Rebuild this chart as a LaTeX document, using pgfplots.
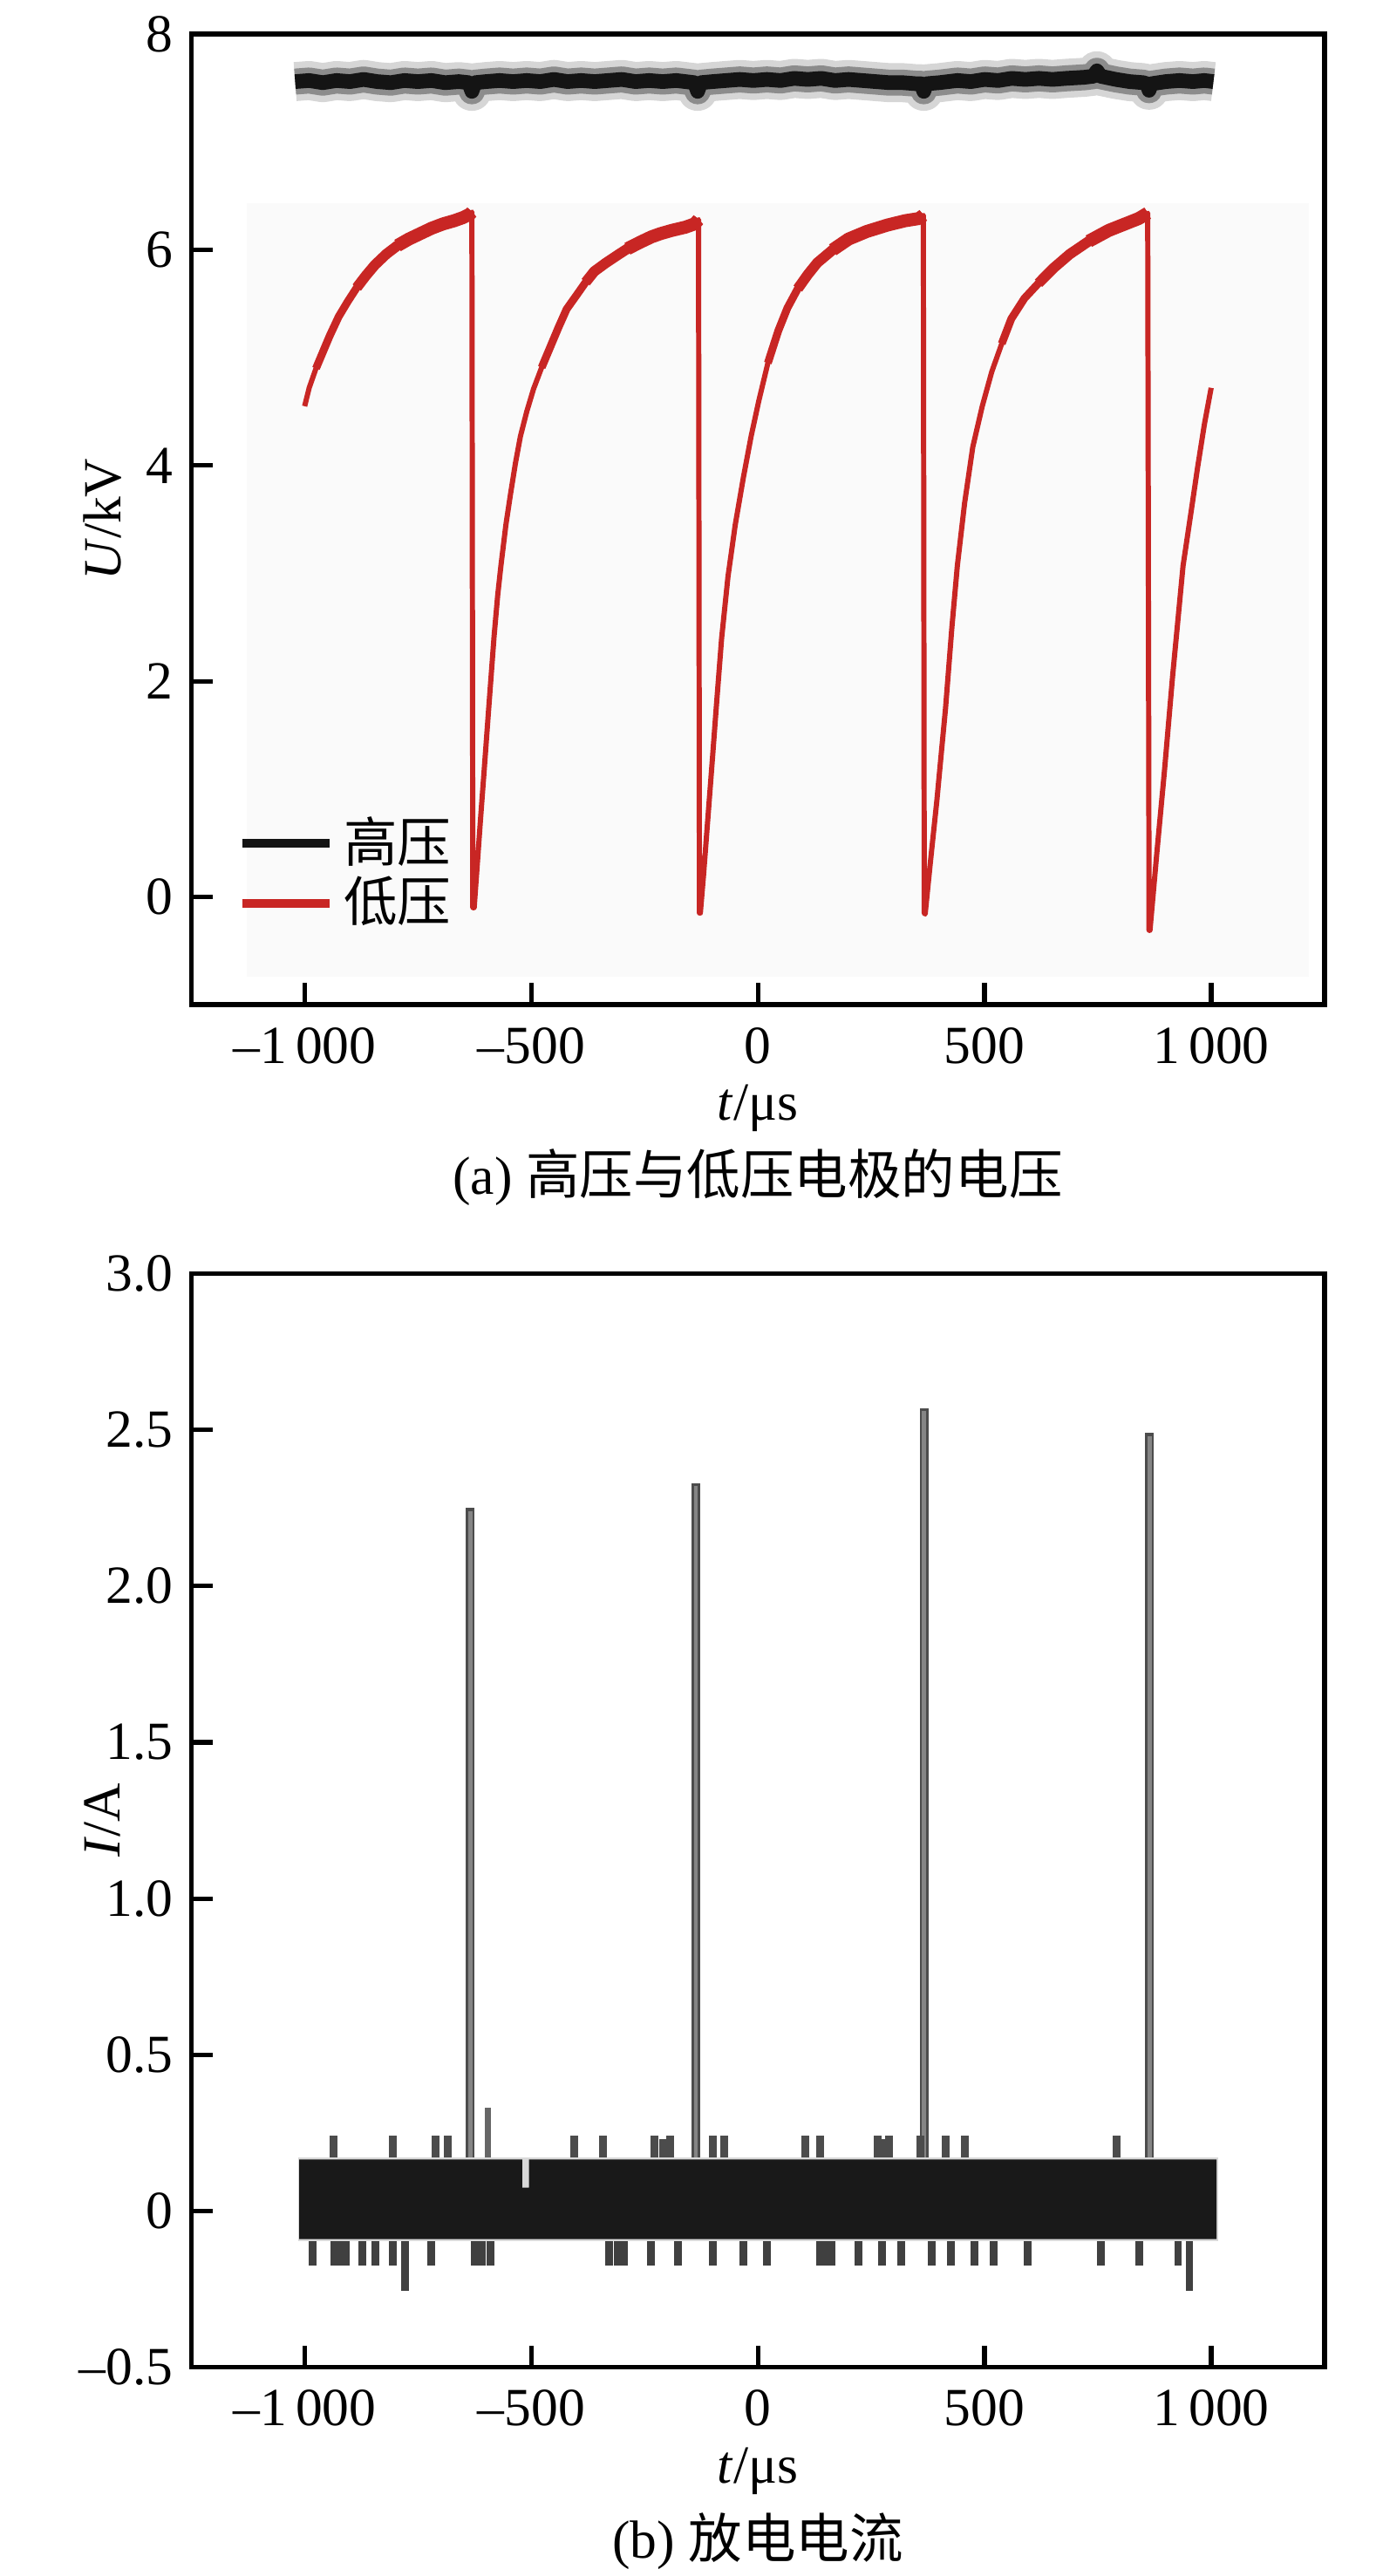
\documentclass[border=0pt]{standalone}
\usepackage{fontspec}
\setmainfont{Liberation Serif}
\newfontfamily\cjk{Noto Sans CJK SC}
\usepackage{pgfplots}
\usepackage{pgfplotstable}
\pgfplotsset{compat=1.18}
\definecolor{lvred}{RGB}{200,38,36}

\pgfplotstableread{
t U
-1021 7.56
-990 7.57
-960 7.55
-930 7.57
-900 7.56
-870 7.58
-840 7.56
-810 7.55
-780 7.57
-750 7.56
-720 7.57
-690 7.55
-660 7.56
-638 7.55
-631 7.47
-624 7.55
-600 7.56
-570 7.57
-540 7.56
-510 7.57
-480 7.56
-450 7.58
-420 7.56
-390 7.57
-360 7.56
-330 7.57
-300 7.58
-270 7.56
-240 7.57
-210 7.56
-180 7.57
-140 7.55
-133 7.47
-126 7.55
-100 7.56
-70 7.57
-40 7.58
-10 7.57
20 7.58
50 7.57
80 7.59
110 7.58
140 7.59
170 7.57
200 7.58
230 7.57
260 7.56
290 7.55
320 7.55
350 7.54
360 7.54
366 7.47
372 7.54
400 7.55
440 7.57
470 7.56
500 7.58
530 7.57
560 7.59
590 7.58
620 7.59
650 7.58
680 7.59
720 7.60
740 7.61
748 7.66
756 7.61
790 7.58
820 7.56
850 7.55
858 7.54
863 7.48
868 7.54
900 7.56
930 7.57
960 7.56
985 7.57
1005 7.56
}\hvdata

\pgfplotstableread{
t U
-1000 4.55
-990 4.72
-975 4.90
-960 5.05
-945 5.20
-925 5.38
-905 5.52
-885 5.65
-865 5.76
-845 5.86
-820 5.96
-795 6.04
-770 6.10
-745 6.15
-720 6.20
-695 6.24
-670 6.27
-650 6.30
-636 6.33
-631 6.35
-629 -0.10
-626 -0.10
-620 0.25
-612 0.72
-604 1.17
-593 1.80
-582 2.42
-574 2.80
-567 3.07
-556 3.45
-546 3.73
-535 4.02
-524 4.27
-510 4.50
-495 4.71
-477 4.91
-459 5.09
-440 5.28
-422 5.45
-400 5.58
-380 5.70
-361 5.80
-335 5.88
-310 5.95
-288 6.01
-260 6.07
-235 6.12
-215 6.15
-190 6.18
-160 6.21
-140 6.24
-131 6.28
-129 -0.15
-127 -0.15
-120 0.20
-110 0.75
-100 1.30
-92 1.75
-80 2.40
-66 2.97
-50 3.45
-32 3.89
-15 4.27
2 4.60
22 4.95
45 5.25
65 5.46
88 5.64
110 5.77
131 5.88
165 6.00
200 6.10
240 6.17
286 6.23
325 6.27
355 6.29
365 6.32
367 -0.15
369 -0.16
380 0.30
395 0.90
405 1.35
414 1.75
428 2.50
440 3.07
456 3.65
474 4.17
495 4.55
516 4.87
538 5.13
559 5.36
588 5.55
619 5.69
652 5.83
688 5.96
730 6.08
774 6.18
810 6.24
840 6.29
860 6.34
863 -0.31
865 -0.31
880 0.40
897 1.17
915 2.05
938 3.07
955 3.55
970 3.98
985 4.38
1000 4.72
}\lvdata

\pgfplotsset{
  myax/.style={
    scale only axis, width=348.4pt, anchor=south west,
    xmin=-1250, xmax=1250,
    axis line style={line width=1.45pt},
    tick align=inside, tick pos=left,
    major tick length=6.6pt,
    tick style={line width=1.4pt, black},
    xtick={-1000,-500,0,500,1000},
    xticklabels={–1\,000,–500,0,500,1\,000},
    tick label style={font=\fontsize{16.5}{19.5}\selectfont},
    xticklabel style={yshift=-1.3pt},
    label style={font=\fontsize{16.5}{19.5}\selectfont},
    xlabel={\textit{t}/μs},
    ylabel style={at={(axis description cs:-0.0785,0.5)}, anchor=center},
  }
}

\begin{document}
\fontsize{16.5}{19.5}\selectfont
\begin{tikzpicture}
\useasboundingbox (0,0) rectangle (425pt,792pt);

\begin{axis}[myax, at={(58.83pt,483.1pt)}, height=298.4pt,
  ymin=-1, ymax=8, ytick={0,2,4,6,8}, yticklabels={0,2,4,6,8},
  ylabel={\textit{U}/kV},
  xlabel style={at={(axis description cs:0.5,-0.1193)}, anchor=base},
  unbounded coords=jump,
  legend style={draw=none, fill=none, at={(axis description cs:0.0405,0.1354)},
    anchor=west, font=\fontsize{16.5}{19.5}\selectfont, row sep=0pt, column sep=2pt,
    inner sep=0pt, nodes={inner sep=1pt}},
  legend cell align=left,
  legend image code/.code={\draw[#1, line width=2.6pt, line cap=butt] (0pt,0pt) -- (27pt,0pt);},
]
\addplot[fill=black!2, draw=none, forget plot] coordinates {(-1127,-0.74) (1215,-0.74) (1215,6.43) (-1127,6.43)} -- cycle;
\addplot[black!16, line width=12pt, line join=round, forget plot] table[x=t,y=U] {\hvdata};
\addplot[black!45, line width=8pt, line join=round, forget plot] table[x=t,y=U] {\hvdata};
\addplot[black!92, line width=4.5pt, line join=round] table[x=t,y=U] {\hvdata};
\addlegendentry{\cjk 高压}
\addplot[lvred, line width=1.6pt, line join=round] table[x=t,y=U] {\lvdata};
\addlegendentry{\cjk 低压}
\addplot[lvred, line width=2.4pt, line join=round, forget plot,
  restrict y to domain=4.9:7] table[x=t,y=U] {\lvdata};
\addplot[lvred, line width=3.2pt, line join=round, forget plot,
  restrict y to domain=5.6:7] table[x=t,y=U] {\lvdata};
\addplot[lvred, line width=4pt, line join=round, forget plot,
  restrict y to domain=6.0:7] table[x=t,y=U] {\lvdata};
\end{axis}

\node[anchor=base] at (233pt,424.7pt) {(a) {\cjk 高压与低压电极的电压}};

\begin{axis}[myax, at={(58.83pt,64.2pt)}, height=336.2pt,
  ymin=-0.5, ymax=3, ytick={-0.5,0,0.5,1,1.5,2,2.5,3},
  yticklabels={–0.5,0,0.5,1.0,1.5,2.0,2.5,3.0},
  ylabel={\textit{I}/A},
  xlabel style={at={(axis description cs:0.5,-0.1059)}, anchor=base},
]
% discharge spikes
\addplot[ycomb, black!70, line width=2.6pt] coordinates {(-635,2.25) (-137,2.33) (367,2.57) (864,2.49)};
\addplot[ycomb, black!48, line width=1.3pt] coordinates {(-635,2.24) (-137,2.32) (367,2.56) (864,2.48)};
\addplot[ycomb, black!60, line width=2pt] coordinates {(-596,0.33)};
% upper noise spikes
\addplot[ycomb, black!70, line width=2.4pt] coordinates {
(-937,0.24) (-805,0.24) (-711,0.24) (-684,0.24) (-406,0.24) (-341,0.24)
(-228,0.24) (-210,0.23) (-194,0.24) (-100,0.24) (-75,0.24) (104,0.24) (138,0.24)
(265,0.24) (280,0.23) (290,0.24) (358,0.24) (414,0.24) (457,0.24) (791,0.24)};
% lower noise spikes
\addplot[ycomb, black!75, line width=2.4pt] coordinates {
(-983,-0.175) (-935,-0.175) (-924,-0.175) (-910,-0.175) (-873,-0.175) (-844,-0.175)
(-805,-0.175) (-779,-0.256) (-720,-0.175) (-625,-0.175) (-610,-0.175) (-590,-0.175)
(-329,-0.175) (-310,-0.175) (-295,-0.175) (-236,-0.175) (-177,-0.175) (-100,-0.175)
(-32,-0.175) (19,-0.175) (138,-0.175) (150,-0.175) (163,-0.175) (222,-0.175)
(273,-0.175) (316,-0.175) (384,-0.175) (426,-0.175) (477,-0.175) (520,-0.175)
(596,-0.175) (757,-0.175) (842,-0.175) (927,-0.175) (952,-0.256)};
% dense noise block
\addplot[fill=black!15, draw=none] coordinates {(-1015,-0.097) (1015,-0.097) (1015,0.172) (-1015,0.172)} -- cycle;
\addplot[fill=black!90, draw=none] coordinates {
(-1012,-0.09) (1012,-0.09) (1012,0.165) (-505,0.165) (-505,0.075) (-520,0.075) (-520,0.165) (-1012,0.165)} -- cycle;
\end{axis}

\node[anchor=base] at (233pt,5.6pt) {(b) {\cjk 放电电流}};
\end{tikzpicture}
\end{document}
